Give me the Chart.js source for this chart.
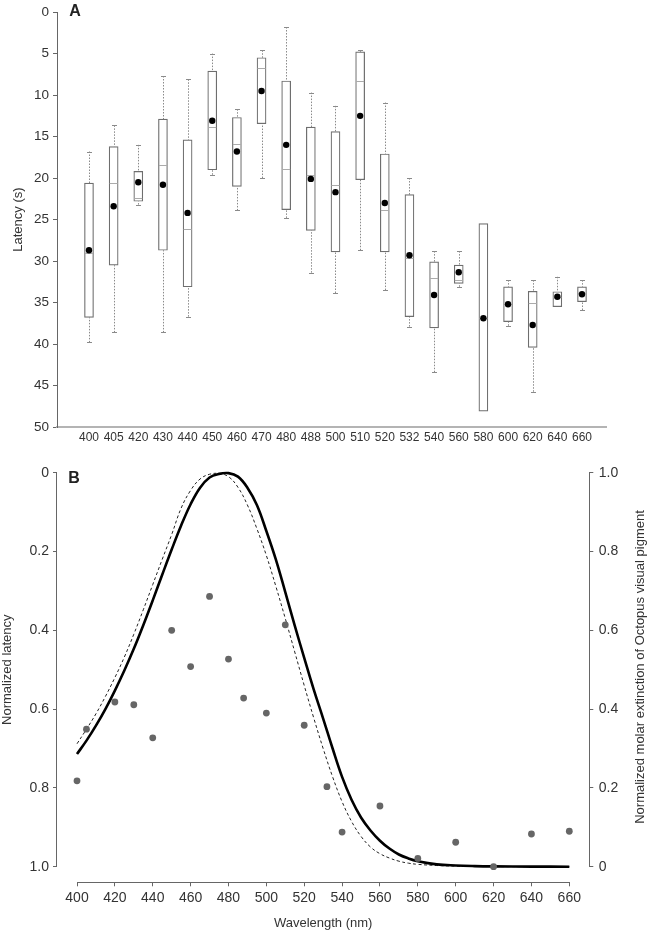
<!DOCTYPE html>
<html><head><meta charset="utf-8">
<script src="https://cdn.jsdelivr.net/npm/chart.js@4.4.1/dist/chart.umd.min.js"></script>
<style>
html,body{margin:0;padding:0;background:#fff;width:648px;height:932px;overflow:hidden;}
#wa{position:absolute;left:0;top:0;width:648px;height:460px;}
#wb{position:absolute;left:0;top:440px;width:648px;height:492px;}
</style></head><body>
<div id="wa"><canvas id="ca"></canvas></div>
<div id="wb"><canvas id="cb"></canvas></div>
<script>
// ---------- Panel A data (latency, s) ----------
const categories    = ['400','405','420','430','440','450','460','470','480','488','500','510','520','532','540','560','580','600','620','640','660'];
const whiskerTop    = [16.8,13.65,16.0,7.7,8.1,5.0,11.7,4.6,1.8,9.7,11.3,4.6,10.9,20.0,28.8,28.8,25.5,32.3,32.3,31.9,32.3];
const boxTop        = [20.6,16.2,19.2,12.9,15.4,7.1,12.7,5.5,8.3,13.85,14.4,4.8,17.1,22.0,30.1,30.5,25.5,33.1,33.65,33.7,33.1];
const medians       = [29.0,20.6,22.4,18.4,26.1,13.85,15.9,6.7,18.85,19.6,20.8,8.3,23.8,29.6,32.1,32.3,36.9,35.2,35.0,34.3,33.9];
const boxBottom     = [36.8,30.5,22.8,28.7,33.1,19.0,21.0,13.45,23.8,26.3,28.9,20.2,28.9,36.7,38.05,32.7,48.1,37.3,40.4,35.5,34.9];
const whiskerBottom = [39.8,38.6,23.2,38.6,36.7,19.6,23.9,20.0,24.8,31.4,33.85,28.7,33.5,37.9,43.4,33.1,48.1,37.8,45.75,35.5,35.9];
const means         = [28.7,23.4,20.5,20.8,24.2,13.1,16.8,9.5,16.0,20.1,21.7,12.5,23.0,29.3,34.1,31.35,36.9,35.2,37.7,34.3,34.0];
const latencyTicks  = [0,5,10,15,20,25,30,35,40,45,50];

// ---------- Panel B data ----------
const wavelengths   = [400,405,420,430,440,450,460,470,480,488,500,510,520,532,540,560,580,600,620,640,660];
const normLatency   = [0.782,0.651,0.582,0.589,0.673,0.400,0.492,0.314,0.473,0.572,0.610,0.386,0.641,0.797,0.912,0.846,0.979,0.938,1.0,0.917,0.910];
const curveNm       = [400,405,410,415,420,425,430,435,440,445,450,455,460,465,470,475,480,485,490,495,500,505,510,515,520,525,530,535,540,545,550,555,560,565,570,575,580,590,600,610,620,640,660];
const pigmentSolid  = [0.286,0.32,0.358,0.40,0.447,0.498,0.553,0.613,0.676,0.741,0.805,0.866,0.92,0.962,0.988,0.997,0.999,0.99,0.962,0.918,0.852,0.78,0.697,0.612,0.53,0.45,0.376,0.30,0.228,0.17,0.125,0.092,0.066,0.046,0.031,0.021,0.014,0.006,0.003,0.0015,0.0008,0.0002,0];
const pigmentDashed = [0.312,0.349,0.388,0.432,0.48,0.532,0.59,0.652,0.716,0.78,0.843,0.91,0.955,0.984,0.996,0.998,0.99,0.963,0.918,0.858,0.79,0.712,0.63,0.545,0.46,0.378,0.30,0.228,0.165,0.115,0.077,0.05,0.033,0.022,0.014,0.009,0.006,0.003,0.0015,0.0007,0.0003,0.0001,0];
const normTicks     = [0,0.2,0.4,0.6,0.8,1.0];
const wlTicks       = [400,420,440,460,480,500,520,540,560,580,600,620,640,660];
const rightAxisTitle = 'Normalized molar extinction of Octopus visual pigment';

const FONT = '"Liberation Sans", Arial, Helvetica, sans-serif';
Chart.defaults.font.family = FONT;
Chart.defaults.color = '#333';

function panelLabel(text, x, y) {
  return { id: 'pl' + text, afterDraw(chart) {
    const c = chart.ctx; c.save();
    c.font = 'bold 16px ' + FONT; c.fillStyle = '#222';
    c.textAlign = 'center'; c.textBaseline = 'middle';
    c.fillText(text, x, y); c.restore();
  }};
}

const boxExtras = {
  id: 'boxExtras',
  beforeDatasetsDraw(chart) {
    const {ctx, scales: {x, y}} = chart;
    ctx.save(); ctx.strokeStyle = '#8a8a8a'; ctx.lineWidth = 1;
    categories.forEach((_, i) => {
      const px = Math.round(x.getPixelForValue(i)) + 0.5;
      const seg = (a, b) => {
        if (Math.abs(a - b) < 0.05) return;
        ctx.setLineDash([1.5, 1.5]);
        ctx.beginPath(); ctx.moveTo(px, y.getPixelForValue(a)); ctx.lineTo(px, y.getPixelForValue(b)); ctx.stroke();
        ctx.setLineDash([]);
        const cy = Math.round(y.getPixelForValue(a)) + 0.5;
        ctx.beginPath(); ctx.moveTo(px - 2.5, cy); ctx.lineTo(px + 2.5, cy); ctx.stroke();
      };
      seg(whiskerTop[i], boxTop[i]);
      seg(whiskerBottom[i], boxBottom[i]);
    });
    ctx.restore();
  },
  afterDatasetDraw(chart, args) {
    if (args.index !== 0) return;
    const {ctx, scales: {x, y}} = chart;
    ctx.save(); ctx.strokeStyle = '#ababab'; ctx.lineWidth = 1;
    categories.forEach((_, i) => {
      const px = x.getPixelForValue(i);
      const py = Math.round(y.getPixelForValue(medians[i])) + 0.5;
      ctx.beginPath(); ctx.moveTo(px - 4, py); ctx.lineTo(px + 4, py); ctx.stroke();
    });
    ctx.restore();
  }
};

const idx = categories.map((_, i) => i);

new Chart(document.getElementById('ca'), {
  type: 'bar',
  data: { datasets: [
    { type: 'bar', data: idx.map(i => ({x: i, y: [boxTop[i], boxBottom[i]]})),
      backgroundColor: '#ffffff', borderColor: '#6e6e6e', borderWidth: 1.2, borderSkipped: false,
      barThickness: 9, order: 2 },
    { type: 'scatter', data: idx.map(i => ({x: i, y: means[i]})),
      backgroundColor: '#000', borderColor: '#000', pointRadius: 3.2, pointBorderWidth: 0, order: 1 }
  ]},
  options: {
    responsive: true, maintainAspectRatio: false, animation: false,
    layout: {padding: {top: 7, right: 42, left: 0, bottom: 0}},
    plugins: {legend: {display: false}, tooltip: {enabled: false}},
    scales: {
      x: { type: 'linear', min: -1.298, max: 20.974, offset: false,
        afterBuildTicks: s => { s.ticks = idx.map(v => ({value: v})); },
        afterFit: s => { s.height = 33; },
        grid: {display: true, drawOnChartArea: false, drawTicks: false},
        border: {display: true, color: '#b4b4b4', width: 2},
        ticks: {autoSkip: false, maxRotation: 0, minRotation: 0, padding: 3, font: {size: 12}, color: '#333',
                callback: (v, i) => categories[i]} },
      y: { type: 'linear', reverse: true, min: 0, max: 50,
        afterBuildTicks: s => { s.ticks = latencyTicks.map(v => ({value: v})); },
        afterFit: s => { s.width = 57; },
        grid: {drawOnChartArea: false, drawTicks: true, tickLength: 4, color: '#666'},
        border: {display: true, color: '#666', width: 1},
        ticks: {padding: 4, font: {size: 13.5}, color: '#333'},
        title: {display: true, text: 'Latency (s)', font: {size: 13}, color: '#333', padding: {top: 11, bottom: 0}} }
    }
  },
  plugins: [boxExtras, panelLabel('A', 75, 12)]
});

const axisLinesB = {
  id: 'axisLinesB',
  afterDraw(chart) {
    const {ctx, chartArea: a, scales: {x, y, y2}} = chart;
    ctx.save(); ctx.strokeStyle = '#666'; ctx.lineWidth = 1; ctx.beginPath();
    const lx = Math.round(a.left) - 0.5;
    ctx.moveTo(lx, y.getPixelForValue(normTicks[0])); ctx.lineTo(lx, y.getPixelForValue(normTicks[normTicks.length - 1]));
    const rx = Math.round(a.right) + 0.5;
    ctx.moveTo(rx, y2.getPixelForValue(normTicks[0])); ctx.lineTo(rx, y2.getPixelForValue(normTicks[normTicks.length - 1]));
    const by = Math.round(a.bottom) + 0.5;
    ctx.moveTo(x.getPixelForValue(wlTicks[0]), by); ctx.lineTo(x.getPixelForValue(wlTicks[wlTicks.length - 1]), by);
    ctx.stroke(); ctx.restore();
  }
};
const rightTitle = {
  id: 'rightTitle',
  afterDraw(chart) {
    const c = chart.ctx; c.save();
    c.translate(640, 227); c.rotate(-Math.PI / 2);
    c.font = '13px ' + FONT; c.fillStyle = '#333';
    c.textAlign = 'center'; c.textBaseline = 'middle';
    c.fillText(rightAxisTitle, 0, 0); c.restore();
  }
};
const fmt = v => (v === 0 ? '0' : v.toFixed(1));

new Chart(document.getElementById('cb'), {
  type: 'scatter',
  data: { datasets: [
    { type: 'scatter', data: wavelengths.map((w, i) => ({x: w, y: normLatency[i]})), yAxisID: 'y',
      backgroundColor: '#666', borderColor: '#666', pointRadius: 3.4, pointBorderWidth: 0, order: 0 },
    { type: 'line', data: curveNm.map((w, i) => ({x: w, y: pigmentSolid[i]})), yAxisID: 'y2',
      borderColor: '#000', borderWidth: 2.6, pointRadius: 0, tension: 0.4, fill: false, order: 1 },
    { type: 'line', data: curveNm.map((w, i) => ({x: w, y: pigmentDashed[i]})), yAxisID: 'y2',
      borderColor: '#222', borderWidth: 1, borderDash: [3, 2.5], pointRadius: 0, tension: 0.4, fill: false, order: 2 }
  ]},
  options: {
    responsive: true, maintainAspectRatio: false, animation: false,
    layout: {padding: {top: 17.1, right: 0, left: 0, bottom: 0}},
    plugins: {legend: {display: false}, tooltip: {enabled: false}},
    scales: {
      x: { type: 'linear', min: 389.437, max: 670.563,
        afterBuildTicks: s => { s.ticks = wlTicks.map(v => ({value: v})); },
        afterFit: s => { s.height = 49.7; },
        grid: {drawOnChartArea: false, drawTicks: true, tickLength: 4, color: '#666'},
        border: {display: false},
        ticks: {autoSkip: false, maxRotation: 0, minRotation: 0, padding: 3, font: {size: 14}, color: '#333'},
        title: {display: true, text: 'Wavelength (nm)', font: {size: 13}, color: '#333', padding: {top: 0, bottom: 1.2}} },
      y: { type: 'linear', position: 'left', reverse: true, min: -0.0396, max: 1.0396,
        afterBuildTicks: s => { s.ticks = normTicks.map(v => ({value: v})); },
        afterFit: s => { s.width = 57; },
        grid: {drawOnChartArea: false, drawTicks: true, tickLength: 4, color: '#666'},
        border: {display: false},
        ticks: {padding: 4, font: {size: 14}, color: '#333', callback: fmt},
        title: {display: true, text: 'Normalized latency', font: {size: 13}, color: '#333', padding: {top: 0, bottom: 0}} },
      y2: { type: 'linear', position: 'right', min: -0.0396, max: 1.0396,
        afterBuildTicks: s => { s.ticks = normTicks.map(v => ({value: v})); },
        afterFit: s => { s.width = 58.7; },
        grid: {drawOnChartArea: false, drawTicks: true, tickLength: 4, color: '#666'},
        border: {display: false},
        ticks: {padding: 5.5, font: {size: 14}, color: '#333', callback: fmt} }
    }
  },
  plugins: [axisLinesB, rightTitle, panelLabel('B', 74, 38.3)]
});
</script>
</body></html>
